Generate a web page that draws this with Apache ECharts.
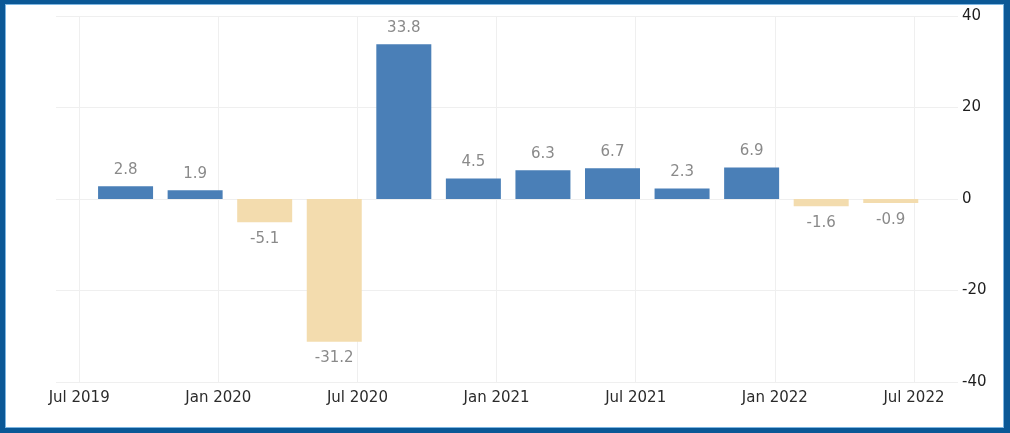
<!DOCTYPE html>
<html>
<head>
<meta charset="utf-8">
<script src="https://cdn.jsdelivr.net/npm/echarts@6/dist/echarts.min.js"></script>
<style>
	html,body{margin:0;padding:0;background:#fff;}
	#wrap{position:relative;width:1010px;height:433px;overflow:hidden;}
	#chart{position:absolute;left:0;top:0;width:1010px;height:433px;}
	#frame{position:absolute;left:0;top:0;width:1010px;height:433px;box-sizing:border-box;
		border-style:solid;border-color:#0b5896;border-width:4px 6px 5px 5px;
		box-shadow:inset 0 0 0 1px #7db6e2;pointer-events:none;}
</style>
</head>
<body>
<div id="wrap">
	<div id="chart"></div>
	<div id="frame"></div>
</div>
<script>
// quarter positions, in months counted from Jan 2019 (Jul 2019 = 6)
var quarterPos = [8, 11, 14, 17, 20, 23, 26, 29, 32, 35, 38, 41];
var growth = [2.8, 1.9, -5.1, -31.2, 33.8, 4.5, 6.3, 6.7, 2.3, 6.9, -1.6, -0.9];
var xTickMonths = [6, 12, 18, 24, 30, 36, 42];
var xTickLabels = ["Jul 2019", "Jan 2020", "Jul 2020", "Jan 2021", "Jul 2021", "Jan 2022", "Jul 2022"];
var yTicks = [-40, -20, 0, 20, 40];

var fontName = "DejaVu Sans";
var upColor = "#4a7fb7";
var downColor = "#f3dcae";

var barData = growth.map(function(v, i){
	return {
		value: [quarterPos[i], v],
		itemStyle: {color: v >= 0 ? upColor : downColor},
		label: {position: v >= 0 ? "top" : "bottom"}
	};
});

var myChart = echarts.init(document.getElementById("chart"));
var option = {
	animation: false,
	grid: {left: 56, right: 52, top: 16, bottom: 51},
	xAxis: {
		type: "value",
		min: 5,
		max: 43.9,
		axisLine: {show: false},
		axisTick: {show: false, customValues: xTickMonths},
		splitLine: {show: true, lineStyle: {color: "#efefef", width: 1}},
		axisLabel: {
			customValues: xTickMonths,
			color: "#2b2b2b",
			fontFamily: fontName,
			fontSize: 15,
			margin: 9,
			formatter: function(v){
				var i = xTickMonths.indexOf(v);
				return i >= 0 ? xTickLabels[i] : "";
			}
		}
	},
	yAxis: {
		type: "value",
		position: "right",
		min: yTicks[0],
		max: yTicks[yTicks.length - 1],
		interval: 20,
		axisLine: {show: false},
		axisTick: {show: false},
		splitLine: {lineStyle: {color: "#efefef", width: 1}},
		axisLabel: {
			color: "#1e1e1e",
			fontFamily: fontName,
			fontSize: 15,
			margin: 4,
			align: "left"
		}
	},
	series: [{
		type: "bar",
		barWidth: 55,
		data: barData,
		label: {
			show: true,
			distance: 9,
			color: "#8a8a8a",
			fontFamily: fontName,
			fontSize: 15,
			formatter: function(p){ return p.value[1].toFixed(1); }
		}
	}]
};
myChart.setOption(option);
</script>
</body>
</html>
